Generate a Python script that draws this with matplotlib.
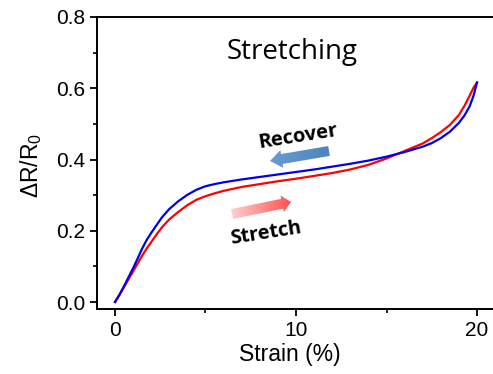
import numpy as np
import matplotlib
matplotlib.use("Agg")
import matplotlib.pyplot as plt
from matplotlib.patches import Polygon
from matplotlib.colors import LinearSegmentedColormap

# strain (%) and dR/R0
strain = [0, 0.25, 0.5, 0.75, 1.0, 1.25, 1.5, 1.75, 2.0, 2.3, 2.6, 3.0, 3.5, 4.0,
          4.5, 5.0, 5.5, 6.0, 7, 8, 9, 10, 11, 12, 13, 14, 15, 16, 17, 17.5, 18,
          18.5, 19, 19.3, 19.6, 19.8, 20]
stretch = [0, 0.02, 0.042, 0.064, 0.086, 0.108, 0.13, 0.15, 0.168, 0.19, 0.21,
           0.232, 0.253, 0.272, 0.287, 0.297, 0.305, 0.312, 0.323, 0.331, 0.339,
           0.346, 0.354, 0.362, 0.372, 0.385, 0.403, 0.424, 0.445, 0.46, 0.477,
           0.497, 0.525, 0.55, 0.58, 0.601, 0.616]
recover = [0, 0.021, 0.045, 0.07, 0.095, 0.122, 0.15, 0.174, 0.194, 0.216, 0.238,
           0.261, 0.283, 0.301, 0.315, 0.325, 0.331, 0.336, 0.344, 0.351, 0.358,
           0.365, 0.372, 0.38, 0.388, 0.397, 0.408, 0.421, 0.436, 0.446, 0.46,
           0.478, 0.503, 0.523, 0.55, 0.578, 0.616]
xticks = [0, 10, 20]
yticks = [0.0, 0.2, 0.4, 0.6, 0.8]

plt.rcParams['font.family'] = ['Liberation Sans', 'DejaVu Sans']
plt.rcParams['mathtext.fontset'] = 'custom'
plt.rcParams['mathtext.rm'] = 'Liberation Sans'

W, H = 493, 374
fig = plt.figure(figsize=(W / 100, H / 100), dpi=100)
ax = fig.add_axes([97 / W, 1 - 309 / H, 403 / W, 292 / H])

ax.plot(strain, stretch, color='#ff0000', lw=1.6, zorder=3)
ax.plot(strain, recover, color='#0000ee', lw=1.6, zorder=4)

ax.set_xlim(-0.994, 21.27)
ax.set_ylim(-0.0196, 0.8)
ax.set_xticks(xticks)
ax.set_yticks(yticks)
ax.set_yticklabels(['%.1f' % v for v in yticks])
ax.set_xticks([5, 15], minor=True)
ax.set_yticks([0.1, 0.3, 0.5, 0.7], minor=True)
ax.tick_params(which='major', length=5, width=1.3, labelsize=15, direction='out')
ax.tick_params(which='minor', length=3, width=1.2, direction='out')
for s in ax.spines.values():
    s.set_linewidth(1.4)

fig.text(290 / W, 1 - 354 / H, 'Strain (%)', fontsize=16.5, ha='center', va='center')
fig.text(31 / W, 1 - 165 / H, 'ΔR/R$\\mathrm{_0}$', fontsize=16.5, rotation=90,
         ha='center', va='center')


def px(x, y):
    return ax.transData.inverted().transform((x, H - y))


def arrow(tail, tip, shaft, head, headlen, cols):
    d = np.array([tip[0] - tail[0], tip[1] - tail[1]], float)
    L = np.hypot(*d)
    u = d / L
    n = np.array([-u[1], u[0]])
    t = np.array(tail, float)
    b = t + u * (L - headlen)
    pts = [t + n * shaft / 2, b + n * shaft / 2, b + n * head / 2, np.array(tip, float),
           b - n * head / 2, b - n * shaft / 2, t - n * shaft / 2]
    data = [px(*p) for p in pts]
    poly = Polygon(data, closed=True, facecolor='none', edgecolor='none')
    ax.add_patch(poly)
    xs = [p[0] for p in data]
    ys = [p[1] for p in data]
    grad = np.linspace(0, 1, 256).reshape(1, -1)
    cm = LinearSegmentedColormap.from_list('g', cols)
    im = ax.imshow(grad, extent=[min(xs), max(xs), min(ys), max(ys)], cmap=cm,
                   aspect='auto', origin='lower', zorder=2)
    im.set_clip_path(poly)


fig.canvas.draw()
arrow((329, 151), (270, 161), 10, 18, 12, ['#6a9bd0', '#4f84bd'])
arrow((232, 214), (291, 202), 10, 17, 9, ['#ffd0d0', '#ff5050'])
ax.set_xlim(-0.994, 21.27)
ax.set_ylim(-0.0196, 0.8)

fig.text(292 / W, 1 - 52 / H, 'Stretching', fontsize=20, family=['Open Sans'],
         ha='center', va='center')
fig.text(298 / W, 1 - 137 / H, 'Recover', fontsize=14.5, family=['Open Sans'],
         fontweight='bold', rotation=9, ha='center', va='center')
fig.text(266 / W, 1 - 233 / H, 'Stretch', fontsize=14.3, family=['Open Sans'],
         fontweight='bold', rotation=9, ha='center', va='center')

fig.savefig('out.png', dpi=100)
